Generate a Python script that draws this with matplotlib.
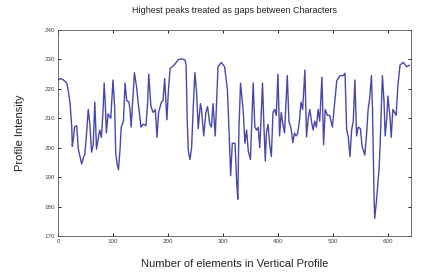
import matplotlib
matplotlib.use("Agg")
import matplotlib.pyplot as plt

x_idx = [0, 5, 10, 16, 19, 22, 25, 26, 28, 30, 34, 37, 40, 43, 46, 49, 52, 55, 58, 61,
         64, 67, 70, 73, 76, 79, 82, 84, 86, 88, 91, 96, 100, 103, 105, 108, 110, 113, 115, 119,
         122, 125, 129, 131, 133, 136, 139, 143, 146, 149, 151, 155, 160, 163, 165, 169, 173, 177, 180, 183,
         188, 191, 194, 198, 201, 204, 208, 213, 219, 225, 231, 233, 235, 237, 240, 243, 246, 249, 252, 255,
         259, 261, 265, 269, 272, 276, 279, 282, 286, 291, 297, 303, 308, 311, 314, 317, 322, 325, 327, 329,
         332, 337, 340, 343, 346, 350, 355, 358, 361, 364, 367, 372, 374, 377, 379, 382, 385, 388, 391, 394,
         397, 400, 403, 406, 409, 412, 417, 420, 424, 427, 430, 433, 436, 439, 442, 445, 449, 452, 455, 458,
         461, 464, 467, 470, 473, 476, 480, 483, 486, 490, 494, 499, 502, 507, 513, 519, 522, 525, 528, 531,
         534, 537, 540, 543, 546, 550, 553, 558, 561, 564, 567, 570, 572, 575, 576, 579, 584, 586, 590, 593,
         595, 598, 600, 604, 606, 609, 612, 615, 618, 622, 628, 634, 639]

intensity = [223, 223.5, 223, 222, 219, 215, 207, 200.5, 203, 207, 207.5, 199.5, 197, 194.5, 196.5, 198, 205, 213, 208, 198.5,
             201, 215.5, 199.5, 203, 206, 203.5, 213, 222, 215, 205, 211.5, 210, 223, 214, 198, 194, 192.5, 200, 207, 209,
             222, 216, 215.5, 213, 207, 216, 225.5, 220.5, 215, 210, 207, 208, 207.5, 215, 225, 214, 212, 213, 203.5, 212,
             215.5, 216, 223.5, 209.5, 220, 227, 227.5, 228.5, 230, 230.2, 229.8, 228, 209.5, 199, 196, 200, 214, 225.5, 219, 206.5,
             215, 213, 204, 212, 214, 208, 207, 215, 204, 227.5, 229, 227.5, 220, 206, 190.5, 201.5, 201.5, 188, 182.5, 206,
             222, 212, 201.5, 206, 199, 196, 222, 207, 206, 207, 200, 222, 210, 195.5, 205, 208, 201, 197, 212, 213,
             211, 225, 204, 212, 208, 205, 224.5, 209, 206.5, 201.7, 205, 204, 205, 209, 215.5, 213, 226.4, 203.7, 210, 213,
             209, 206, 209, 207, 213, 209, 224, 201, 213, 211, 211, 207, 213, 222.8, 224.5, 224.5, 225.3, 206, 203.5, 197,
             206, 209, 223, 204, 207, 206.5, 200.5, 197.5, 204, 213, 217, 224.5, 213, 181.7, 176, 181.5, 193, 201.7, 224.5, 215.5,
             204, 210, 217.6, 210, 203.5, 213, 212, 211, 220.8, 228.1, 229, 227.5, 228]

x_ticks = [0, 100, 200, 300, 400, 500, 600]
y_ticks = [170, 180, 190, 200, 210, 220, 230, 240]

plt.rcParams['font.family'] = ['Liberation Sans', 'DejaVu Sans']

fig = plt.figure(figsize=(4.32, 2.75), dpi=100)
ax = fig.add_axes([58/432, 39/275, 353/432, 206/275])
ax.plot(x_idx, intensity, color='#4848aa', linewidth=1.0)
ax.set_xlim(0, 642)
ax.set_ylim(170, 240)
ax.set_xticks(x_ticks)
ax.set_yticks(y_ticks)
ax.tick_params(direction='in', top=True, right=True, length=2.5, width=0.6,
               labelsize=4.5, labelcolor='#444444', pad=2)
for s in ax.spines.values():
    s.set_linewidth(0.6)
    s.set_color('#555555')
ax.set_title('Highest peaks treated as gaps between Characters', fontsize=6.5, pad=12, color='#222222')
ax.set_xlabel('Number of elements in Vertical Profile', fontsize=8, labelpad=11, color='#222222')
ax.set_ylabel('Profile Intensity', fontsize=8, labelpad=14, color='#222222')
fig.savefig('out.png', dpi=100)
